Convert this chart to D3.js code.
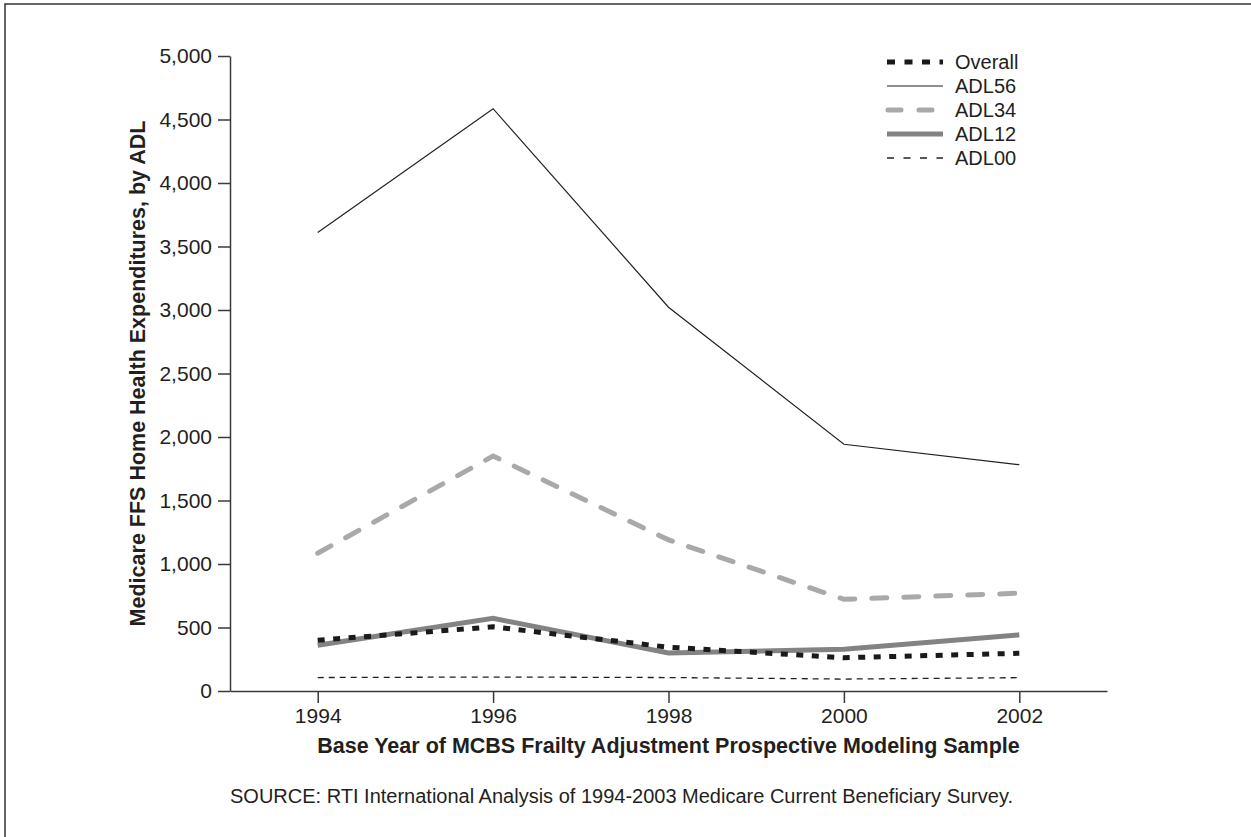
<!DOCTYPE html>
<html>
<head>
<meta charset="utf-8">
<script src="https://cdn.jsdelivr.net/npm/d3@7"></script>
<style>
	body { margin: 0; background: #fff; }
	svg text { font-family: "Liberation Sans", Arial, Helvetica, sans-serif; fill: #231f20; }
</style>
</head>
<body>
<svg id="chart" width="1251" height="837"></svg>
<script>
	// data
	var years = [1994, 1996, 1998, 2000, 2002];
	var overall = [400, 505, 345, 262, 297];
	var adl56 = [3610, 4585, 3022, 1943, 1782];
	var adl34 = [1085, 1850, 1190, 722, 770];
	var adl12 = [360, 572, 300, 328, 442];
	var adl00 = [106, 110, 106, 94, 105];
	var y_ticks = [0, 500, 1000, 1500, 2000, 2500, 3000, 3500, 4000, 4500, 5000];

	var series = [
		{ name: 'Overall', values: overall, color: '#1a1a1a', width: 5, dash: '7,8.5', key_dash: '8,9.5', cap: 'butt' },
		{ name: 'ADL56', values: adl56, color: '#231f20', width: 1.2, dash: null, key_dash: null, cap: 'butt' },
		{ name: 'ADL34', values: adl34, color: '#a9a9ab', width: 5, dash: '15,17', key_dash: '13,18', cap: 'round' },
		{ name: 'ADL12', values: adl12, color: '#838385', width: 5, dash: null, key_dash: null, cap: 'butt' },
		{ name: 'ADL00', values: adl00, color: '#222', width: 1.3, dash: '6,5', key_dash: '7,9.5', cap: 'butt' }
	];

	var svg = d3.select('#chart');

	// frame round the figure, runs off right and bottom
	svg.append('rect')
		.attr('x', 5).attr('y', 4)
		.attr('width', 1260).attr('height', 850)
		.attr('fill', 'none')
		.attr('stroke', '#333')
		.attr('stroke-width', 1.5);

	var x = d3.scaleLinear().domain([1993, 2003]).range([230, 1107]);
	var y = d3.scaleLinear().domain([0, 5000]).range([691, 56]);

	var x_axis = svg.append('g')
		.attr('transform', 'translate(0,' + y(0) + ')')
		.call(d3.axisBottom(x).tickValues(years).tickFormat(d3.format('d')).tickSize(12).tickPadding(5).tickSizeOuter(0));

	var y_axis = svg.append('g')
		.attr('transform', 'translate(' + x(1993) + ',0)')
		.call(d3.axisLeft(y).tickValues(y_ticks).tickFormat(d3.format(',')).tickSize(12).tickPadding(6).tickSizeOuter(0));

	[x_axis, y_axis].forEach(function(a) {
		a.selectAll('path, line').attr('stroke', '#3a3a3a').attr('stroke-width', 1.5);
		a.selectAll('text').attr('font-size', 21).attr('fill', '#231f20')
			.style('font-family', '"Liberation Sans", Arial, sans-serif');
	});

	var line = d3.line()
		.x(function(d, i) { return x(years[i]); })
		.y(function(d) { return y(d); });

	// draw thin ones last so they sit on top
	var order = [2, 3, 0, 1, 4];
	order.forEach(function(k) {
		var s = series[k];
		svg.append('path')
			.datum(s.values)
			.attr('d', line)
			.attr('fill', 'none')
			.attr('stroke', s.color)
			.attr('stroke-width', s.width)
			.attr('stroke-dasharray', s.dash)
			.attr('stroke-linecap', s.cap)
			.attr('stroke-linejoin', 'miter');
	});

	// legend
	var legend = svg.append('g').attr('transform', 'translate(887,62)');
	series.forEach(function(s, i) {
		var row = legend.append('g').attr('transform', 'translate(0,' + (i * 24) + ')');
		row.append('line')
			.attr('x1', s.cap === 'round' ? 1 : 0).attr('x2', 56)
			.attr('y1', 0).attr('y2', 0)
			.attr('stroke', s.color)
			.attr('stroke-width', s.width)
			.attr('stroke-dasharray', s.key_dash)
			.attr('stroke-linecap', s.cap);
		row.append('text')
			.attr('x', 68).attr('y', 7)
			.attr('font-size', 20)
			.text(s.name);
	});

	// axis titles
	svg.append('text')
		.attr('x', (x(1993) + x(2003)) / 2).attr('y', 753)
		.attr('text-anchor', 'middle')
		.attr('font-size', 21.5).attr('font-weight', 'bold')
		.text('Base Year of MCBS Frailty Adjustment Prospective Modeling Sample');

	svg.append('text')
		.attr('transform', 'translate(145,' + ((y(0) + y(5000)) / 2) + ') rotate(-90)')
		.attr('text-anchor', 'middle')
		.attr('font-size', 21.5).attr('font-weight', 'bold')
		.text('Medicare FFS Home Health Expenditures, by ADL');

	svg.append('text')
		.attr('x', 230).attr('y', 803)
		.attr('font-size', 20)
		.text('SOURCE: RTI International Analysis of 1994-2003 Medicare Current Beneficiary Survey.');
</script>
</body>
</html>
